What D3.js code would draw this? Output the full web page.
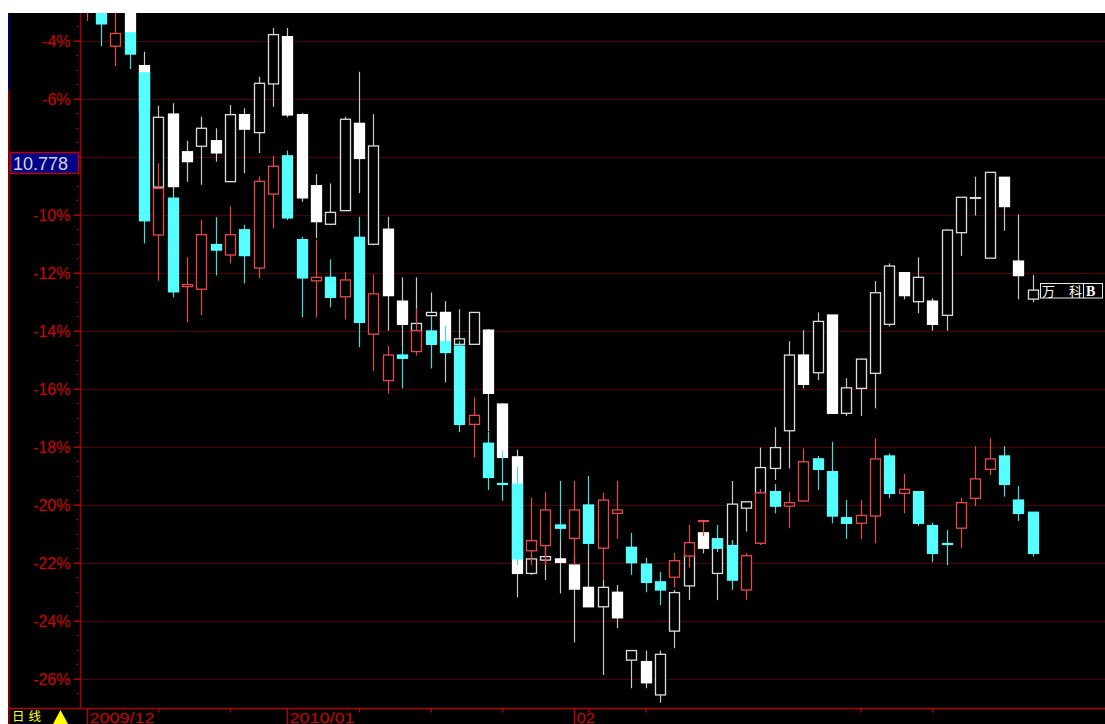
<!DOCTYPE html>
<html><head><meta charset="utf-8">
<script src="https://cdn.jsdelivr.net/npm/d3@7"></script>
<style>html,body{margin:0;padding:0;background:#fff;overflow:hidden}</style>
</head><body>
<svg id="c" width="1105" height="724"></svg>
<script>
// ---- data (percent change), index -1 .. 65 ----
const firstIndex = -1;
// series A : 万科B (white / hollow)
const aOpen  = [-2.2,-2.6,-2.9,-3.0,-4.86,-9.05,-6.53,-7.83,-7.64,-7.45,-8.86,-6.55,-7.17,-5.49,-3.86,-6.55,-9.00,-10.33,-9.86,-6.85,-11.02,-10.50,-12.98,-14.00,-13.48,-13.37,-14.47,-14.47,-13.98,-16.53,-18.35,-22.37,-21.91,-21.87,-22.08,-22.85,-23.52,-23.02,-25.36,-25.41,-26.56,-24.36,-22.80,-20.97,-22.37,-21.50,-20.12,-19.61,-18.75,-17.45,-14.84,-15.45,-13.46,-16.85,-15.99,-15.47,-13.78,-12.00,-13.00,-12.98,-13.47,-10.62,-9.42,-11.50,-8.71,-11.60,-12.91];
const aHigh  = [-2.0,-2.4,-2.3,-2.8,-4.38,-6.24,-6.16,-7.45,-6.62,-7.02,-6.22,-6.33,-5.24,-3.56,-3.56,-6.49,-8.60,-8.92,-6.62,-5.07,-6.54,-10.07,-12.16,-12.16,-12.68,-12.98,-13.26,-13.36,-13.95,-16.50,-18.11,-21.73,-21.41,-21.18,-21.73,-21.56,-22.60,-22.77,-25.02,-25.03,-25.03,-22.94,-21.56,-20.94,-21.17,-19.18,-19.87,-18.03,-17.33,-14.36,-13.98,-13.37,-13.45,-15.64,-14.96,-12.29,-11.68,-11.99,-11.47,-12.88,-10.51,-9.39,-8.69,-8.53,-8.70,-9.99,-12.08];
const aLow   = [-2.8,-3.0,-3.0,-3.8,-6.91,-9.15,-9.39,-8.86,-8.97,-8.17,-8.87,-8.57,-7.87,-6.28,-6.64,-9.55,-10.80,-10.36,-9.87,-9.26,-11.05,-14.00,-14.53,-14.01,-13.49,-15.78,-14.49,-14.49,-17.46,-18.46,-23.19,-22.42,-22.60,-23.06,-24.75,-23.53,-25.87,-24.26,-26.33,-26.33,-26.83,-24.95,-23.29,-21.68,-23.29,-21.70,-20.93,-19.63,-19.15,-18.75,-15.99,-15.70,-16.86,-16.94,-16.94,-16.68,-13.86,-12.92,-13.40,-14.00,-14.00,-11.42,-10.03,-11.51,-10.55,-12.92,-13.02];
const aClose = [-2.6,-2.9,-2.5,-3.73,-6.39,-6.64,-9.03,-8.17,-7.02,-7.87,-6.55,-7.05,-5.47,-3.79,-6.56,-9.42,-10.24,-9.92,-6.71,-8.06,-7.63,-12.79,-13.78,-13.75,-13.37,-14.38,-14.28,-13.37,-16.16,-18.37,-22.37,-21.87,-21.79,-21.99,-22.91,-23.52,-22.85,-23.90,-25.03,-26.14,-25.16,-23.03,-21.73,-21.50,-21.18,-19.98,-19.90,-18.72,-18.03,-14.84,-15.85,-13.68,-16.85,-15.97,-14.98,-12.69,-11.77,-12.79,-12.16,-13.78,-10.53,-9.40,-9.41,-8.54,-9.72,-12.10,-12.60];
// series B : red / cyan
const bOpen  = [-2.8,-2.9,-4.19,-3.73,-5.11,-10.70,-9.43,-12.48,-12.57,-11.03,-11.39,-10.52,-11.84,-9.29,-7.97,-10.86,-12.28,-12.16,-12.83,-10.78,-14.12,-15.72,-14.84,-14.72,-14.01,-14.38,-14.53,-17.23,-17.88,-19.27,-19.29,-21.59,-21.41,-20.70,-21.16,-20.01,-21.50,-20.30,-21.47,-22.05,-22.66,-22.50,-21.77,-20.56,-21.18,-21.41,-22.94,-21.33,-19.55,-20.05,-19.87,-18.42,-18.86,-20.45,-20.64,-20.39,-18.32,-19.61,-19.55,-20.72,-21.34,-20.81,-19.78,-18.78,-18.32,-19.84,-20.26];
const bHigh  = [-2.2,-2.7,-2.9,-3.73,-5.11,-8.23,-9.32,-11.47,-10.17,-10.09,-9.71,-10.35,-8.68,-7.97,-7.79,-10.76,-10.86,-11.54,-11.98,-10.07,-12.06,-14.53,-14.53,-13.23,-13.48,-13.83,-14.36,-16.30,-17.48,-18.15,-18.69,-19.75,-19.57,-19.18,-19.18,-19.01,-19.59,-19.18,-20.97,-21.83,-22.31,-21.66,-20.70,-20.55,-20.70,-21.22,-21.66,-19.46,-19.29,-19.57,-18.06,-18.32,-17.83,-19.84,-19.84,-17.71,-18.23,-18.94,-19.55,-20.62,-20.87,-19.76,-17.98,-17.71,-17.98,-19.36,-20.25];
const bLow   = [-3.32,-4.19,-4.88,-4.98,-10.99,-12.28,-12.85,-13.71,-13.46,-12.10,-11.68,-12.37,-12.19,-10.46,-10.18,-13.54,-13.54,-13.19,-13.61,-14.57,-15.39,-16.16,-15.99,-14.86,-15.30,-14.84,-17.50,-18.37,-19.49,-19.86,-22.08,-22.08,-22.08,-21.18,-22.08,-21.56,-22.60,-21.18,-22.42,-23.02,-23.46,-22.85,-22.17,-21.08,-21.63,-22.94,-23.29,-21.39,-20.30,-20.81,-19.89,-19.49,-20.64,-21.18,-21.18,-21.33,-19.78,-20.30,-20.73,-21.99,-22.08,-21.50,-20.05,-18.98,-19.72,-20.56,-21.79];
const bClose = [-2.4,-3.42,-3.75,-4.46,-10.21,-9.09,-12.66,-12.41,-10.69,-11.22,-10.69,-11.41,-8.85,-8.33,-10.11,-12.18,-12.16,-12.85,-12.25,-13.71,-12.73,-14.84,-14.95,-14.00,-14.47,-14.75,-17.23,-16.92,-19.06,-19.30,-21.87,-21.24,-20.18,-20.81,-20.18,-21.33,-19.84,-20.18,-22.00,-22.68,-22.94,-21.93,-21.31,-20.55,-21.50,-22.60,-21.76,-19.59,-20.05,-19.93,-18.52,-18.78,-20.39,-20.64,-20.37,-18.42,-19.61,-19.47,-20.64,-21.68,-21.37,-19.93,-19.11,-18.42,-19.30,-20.30,-21.68];
const yTicks = [-4,-6,-8,-10,-12,-14,-16,-18,-20,-22,-24,-26];
const hiddenTick = -8; // label covered by the last-value box
const monthLabels = ["2009/12","2010/01","02"];
const monthIdx = [-1,13,33];
const weekIdx = [4,9,18,23,28,34,38,53,58];
const lastValue = "10.778";
const periodLabel = "日线";
const stockName = ["万","科","B"];

// ---- drawing ----
const W = 1105, H = 724;
const svg = d3.select("#c");
svg.append("rect").attr("x",8).attr("y",13).attr("width",W-8).attr("height",H-13).attr("fill","#000");

const x = d3.scaleLinear().domain([-1,65]).range([86.7,1032.6]);
const y = d3.scaleLinear().domain([-4,-26]).range([40.7,678.7]);

// grid
svg.append("g").selectAll("line").data(yTicks).join("line")
  .attr("x1",81).attr("x2",W)
  .attr("y1",d=>Math.round(y(d))+0.5).attr("y2",d=>Math.round(y(d))+0.5)
  .attr("stroke","#520000").attr("stroke-width",1);

// frame lines
svg.append("rect").attr("x",8).attr("y",13).attr("width",2).attr("height",77).attr("fill","#000070");
svg.append("line").attr("x1",9).attr("x2",9).attr("y1",90).attr("y2",H).attr("stroke","#a00000").attr("stroke-width",1.5);
svg.append("line").attr("x1",80.5).attr("x2",80.5).attr("y1",13).attr("y2",709).attr("stroke","#a00000").attr("stroke-width",1.5);
svg.append("line").attr("x1",8).attr("x2",W).attr("y1",708.5).attr("y2",708.5).attr("stroke","#b00000").attr("stroke-width",1.5);

// minor y ticks
svg.append("g").selectAll("line").data(d3.range(-3.5,-27.01,-0.5)).join("line")
  .attr("x1",76).attr("x2",78.5)
  .attr("y1",d=>Math.round(y(d))+0.5).attr("y2",d=>Math.round(y(d))+0.5)
  .attr("stroke","#a00000");

// y axis
const yAxis = d3.axisLeft(y).tickValues(yTicks).tickSize(7).tickPadding(3)
  .tickFormat(d=>d===hiddenTick?"":d+"%");
const ga = svg.append("g").attr("transform","translate(80.5,0)").call(yAxis);
ga.select(".domain").remove();
ga.selectAll(".tick line").attr("stroke","#c00000").attr("stroke-width",1.3);
ga.selectAll(".tick text").attr("fill","#d80000").style("font-family","'Liberation Sans',Arial,sans-serif").style("font-size","16px").attr("dy","0.36em");

// last value box
svg.append("rect").attr("x",10.5).attr("y",152.5).attr("width",68).attr("height",21)
  .attr("fill","#000088").attr("stroke","#c00000").attr("stroke-width",1.5);
svg.append("text").attr("x",13).attr("y",170).text(lastValue)
  .attr("fill","#d4d4d4").style("font-family","'Liberation Sans',Arial,sans-serif").style("font-size","18px");

// x axis ticks
const xAxis = d3.axisBottom(x).tickValues(weekIdx).tickSize(4).tickFormat("");
const gx = svg.append("g").attr("transform","translate(0,708.5)").call(xAxis);
gx.select(".domain").remove();
gx.selectAll(".tick line").attr("stroke","#c00000").attr("stroke-width",1.3);

const gm = svg.append("g");
gm.selectAll("line").data(monthIdx).join("line")
  .attr("x1",d=>Math.round(x(d))+0.5).attr("x2",d=>Math.round(x(d))+0.5)
  .attr("y1",709).attr("y2",H).attr("stroke","#c00000").attr("stroke-width",1.3);
gm.selectAll("text").data(monthIdx).join("text")
  .attr("x",d=>Math.round(x(d))+2.5).attr("y",722.5)
  .text((d,i)=>monthLabels[i])
  .attr("textLength",(d,i)=>monthLabels[i].length*9.3).attr("lengthAdjust","spacingAndGlyphs")
  .attr("fill","#d00000").style("font-family","'Liberation Sans',Arial,sans-serif").style("font-size","14.5px");

// period label
svg.append("text").attr("x",12).attr("y",720.5).text(periodLabel)
  .attr("fill","#ffff00").attr("letter-spacing","4px")
  .style("font-family","'Noto Sans CJK SC',sans-serif").style("font-size","12.5px");
svg.append("path").attr("d","M60.5,710 L68,724 L53,724 Z").attr("fill","#ffff00");

// candles
svg.append("defs").append("clipPath").attr("id","plot").append("rect")
  .attr("x",81.5).attr("y",13).attr("width",W-81.5).attr("height",695);
const plot = svg.append("g").attr("clip-path","url(#plot)");

function rows(open,high,low,close){
  return open.map((o,k)=>({i:firstIndex+k,o,h:high[k],l:low[k],c:close[k]}));
}
function drawSeries(data, col){
  const g = plot.append("g");
  g.selectAll("line").data(data).join("line")
    .attr("x1",d=>Math.round(x(d.i))+0.5).attr("x2",d=>Math.round(x(d.i))+0.5)
    .attr("y1",d=>y(d.h)).attr("y2",d=>y(d.l))
    .attr("stroke",d=>d.c>=d.o?col.wickUp:col.wickDown).attr("stroke-width",1.2);
  g.selectAll("rect").data(data).join("rect")
    .attr("x",d=>Math.round(x(d.i))+0.5-5).attr("width",10)
    .attr("y",d=>y(Math.max(d.o,d.c)))
    .attr("height",d=>Math.max(0.8,y(Math.min(d.o,d.c))-y(Math.max(d.o,d.c))))
    .attr("fill",d=>d.c>=d.o?"#000":col.fill)
    .attr("stroke",d=>d.c>=d.o?col.line:col.fill)
    .attr("stroke-width",1.3);
}
drawSeries(rows(aOpen,aHigh,aLow,aClose),{wickUp:"#c8c8c8",wickDown:"#c8c8c8",line:"#dcdcdc",fill:"#ffffff"});
drawSeries(rows(bOpen,bHigh,bLow,bClose),{wickUp:"#e84848",wickDown:"#44dcdc",line:"#e84848",fill:"#55ffff"});

// stock name label
const gl = svg.append("g");
gl.append("rect").attr("x",1040.5).attr("y",283.5).attr("width",62).attr("height",14.5)
  .attr("fill","#000").attr("stroke","#e8e8e8").attr("stroke-width",1);
gl.append("line").attr("x1",1083.5).attr("x2",1083.5).attr("y1",283.5).attr("y2",298).attr("stroke","#e8e8e8");
gl.append("text").attr("x",1042).attr("y",295.5).text(stockName[0]).attr("fill","#fff")
  .style("font-family","'Noto Sans CJK SC',sans-serif").style("font-size","13px");
gl.append("text").attr("x",1069).attr("y",295.5).text(stockName[1]).attr("fill","#fff")
  .style("font-family","'Noto Sans CJK SC',sans-serif").style("font-size","13px");
gl.append("text").attr("x",1086).attr("y",296).text(stockName[2]).attr("fill","#fff")
  .style("font-family","'Liberation Serif',serif").style("font-size","14px").style("font-weight","bold");
</script>
</body></html>
